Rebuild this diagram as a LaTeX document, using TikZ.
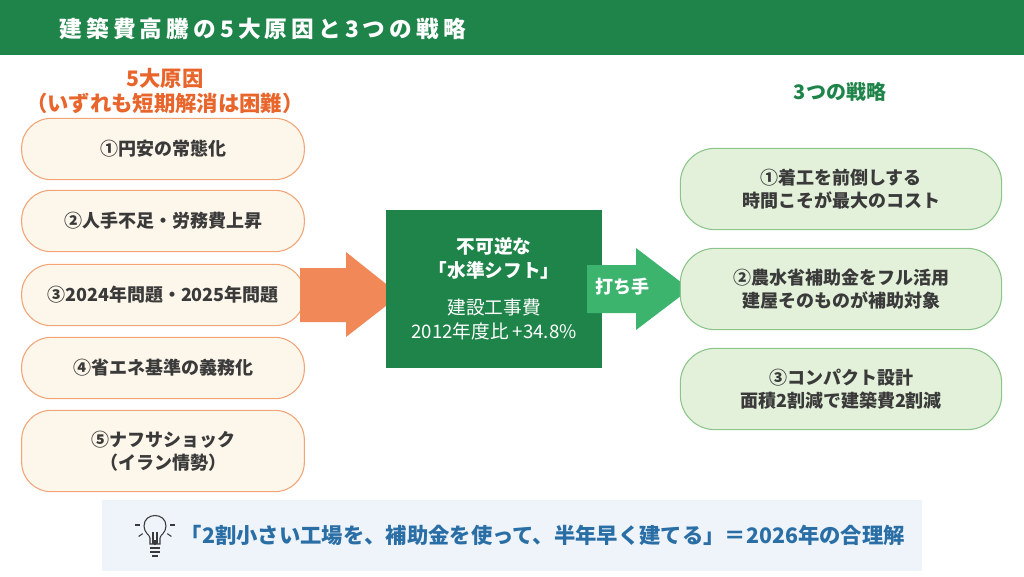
\documentclass[tikz,border=0pt]{standalone}
\usepackage{fontspec}
\setmainfont{Noto Sans CJK JP}
\usepackage{tikz}
\usetikzlibrary{positioning}
\definecolor{hdgreen}{HTML}{1E8449}
\definecolor{arrgreen}{HTML}{3CB46E}
\definecolor{causeorange}{HTML}{E8652B}
\definecolor{arrorange}{HTML}{F08858}
\definecolor{causefill}{HTML}{FDF6EA}
\definecolor{causeline}{HTML}{F2A477}
\definecolor{stratfill}{HTML}{E3F1DA}
\definecolor{stratline}{HTML}{8CC58A}
\definecolor{bandfill}{HTML}{EEF4FA}
\definecolor{bandtext}{HTML}{2A6EA6}
\definecolor{bodytext}{HTML}{3A3A3A}
\tikzset{
  cause/.style={draw=causeline,fill=causefill,line width=0.8pt,rounded corners=22pt,
    minimum width=212pt,align=center,font=\bfseries\fontsize{13.5}{17}\selectfont,text=bodytext},
  strategy/.style={draw=stratline,fill=stratfill,line width=0.8pt,rounded corners=26pt,
    minimum width=241pt,minimum height=61pt,align=center,font=\bfseries\fontsize{13.5}{17}\selectfont,text=bodytext}
}
\begin{document}
\begin{tikzpicture}[x=0.75pt,y=-0.75pt]
  \useasboundingbox (0,0) rectangle (1024,576);
  % header
  \fill[hdgreen] (0,0) rectangle (1024,55);
  \node[anchor=west,text=white,font=\bfseries\fontsize{17}{18}\selectfont\addfontfeatures{LetterSpace=18}] (title) at (55,29) {建築費高騰の5大原因と3つの戦略};
  % column heads
  \node[text=causeorange,font=\bfseries\fontsize{16}{18}\selectfont] (chead) at (165,78) {5大原因};
  \node[text=causeorange,font=\bfseries\fontsize{16}{18}\selectfont] (csub) at (165,103) {（いずれも短期解消は困難）};
  \node[text=hdgreen,font=\bfseries\fontsize{15}{18}\selectfont] (shead) at (840,92) {3つの戦略};
  % causes
  \node[cause,minimum height=46pt] (c1) at (163,149) {①円安の常態化};
  \node[cause,minimum height=46pt] (c2) at (163,221) {②人手不足・労務費上昇};
  \node[cause,minimum height=46pt] (c3) at (163,295) {③2024年問題・2025年問題};
  \node[cause,minimum height=46pt] (c4) at (163,368) {④省エネ基準の義務化};
  \node[cause,minimum height=61pt] (c5) at (163,451) {⑤ナフサショック\\（イラン情勢）};
  % big arrow
  \fill[arrorange] (300,268) -- (346,268) -- (346,252) -- (400,295) -- (346,337) -- (346,322) -- (300,322) -- cycle;
  % center box
  \node[fill=hdgreen,minimum width=162pt,minimum height=118pt,text=white,align=center,
    font=\fontsize{14}{18}\selectfont] (shift) at (494,289)
    {\textbf{不可逆な}\\\textbf{「水準シフト」}\\[10pt]建設工事費\\2012年度比 +34.8\%};
  % green arrow
  \fill[arrgreen] (587,265) -- (636,265) -- (636,248) -- (690,289) -- (636,330) -- (636,313) -- (587,313) -- cycle;
  \node[text=white,font=\bfseries\fontsize{13.5}{14}\selectfont] (outlbl) at (622,287) {打ち手};
  % strategies
  \node[strategy] (s1) at (841,189) {①着工を前倒しする\\時間こそが最大のコスト};
  \node[strategy] (s2) at (841,289) {②農水省補助金をフル活用\\建屋そのものが補助対象};
  \node[strategy] (s3) at (841,389) {③コンパクト設計\\面積2割減で建築費2割減};
  % conclusion band
  \fill[bandfill] (102,500) rectangle (922,571);
  \node[anchor=west,text=bandtext,font=\bfseries\fontsize{16}{18}\selectfont] (concl) at (176,535)
    {「2割小さい工場を、補助金を使って、半年早く建てる」＝2026年の合理解};
  % bulb
  \begin{scope}[draw=bodytext,line width=0.8pt]
    \draw (150,544) -- (150,538) .. controls (150,535) and (144,533) .. (144,526)
      .. controls (144,512) and (166,512) .. (166,526)
      .. controls (166,533) and (160,535) .. (160,538) -- (160,544) -- cycle;
    \draw (150,548) -- (160,548) (150,552) -- (160,552) (152,556) -- (158,556);
    \draw (153,544) -- (153,532) (157,544) -- (157,532);
    \foreach \a in {0,35,90,145,180} \draw (155,525) ++(\a:15) -- ++(\a:5);
  \end{scope}
\end{tikzpicture}
\end{document}
